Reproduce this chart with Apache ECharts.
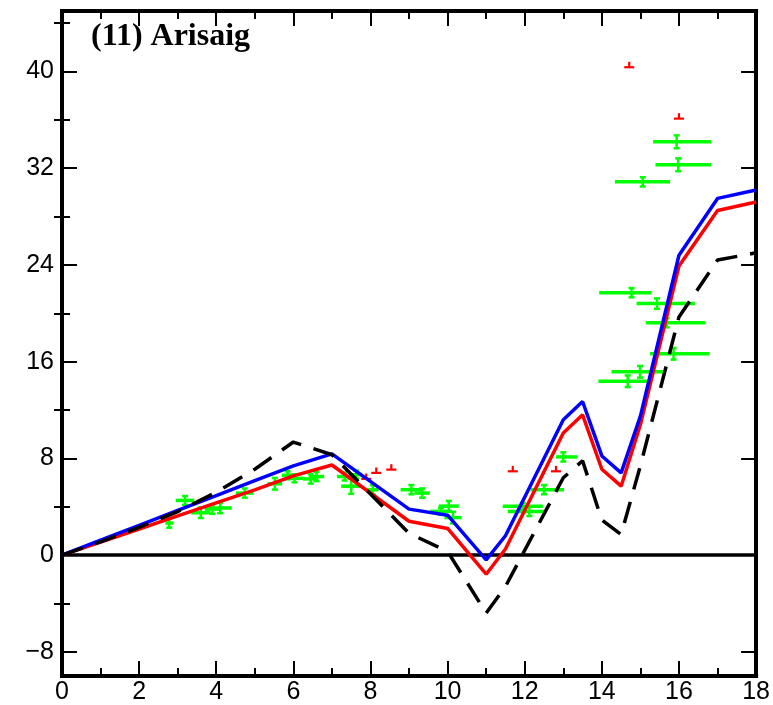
<!DOCTYPE html>
<html>
<head>
<meta charset="utf-8">
<script src="https://cdn.jsdelivr.net/npm/echarts@6/dist/echarts.min.js"></script>
<style>html,body{margin:0;padding:0;background:#fff}#c{width:773px;height:705px}</style>
</head>
<body>
<div id="c"></div>
<script>
// Model curves (x positions of vertices and y values)
const xModel     = [0, 1, 2, 3, 4, 5, 6, 7, 9, 10, 11, 11.5, 13, 13.5, 14, 14.5, 15, 16, 17, 18];
const modelBlue  = [0, 1.23, 2.46, 3.69, 4.92, 6.15, 7.38, 8.37, 3.8, 3.3, -0.4, 1.6, 11.2, 12.7, 8.2, 6.8, 11.5, 24.8, 29.5, 30.2];
const modelRed   = [0, 1.08, 2.16, 3.24, 4.32, 5.4, 6.55, 7.45, 2.8, 2.2, -1.58, 0.5, 10.1, 11.6, 7.1, 5.7, 10.8, 23.9, 28.5, 29.2];
const modelBlack = [0, 1.1, 2.3, 3.6, 5.2, 7.1, 9.35, 8.3, 1.8, 0.3, -4.8, -2.6, 6.4, 7.8, 2.9, 1.7, 7.4, 19.7, 24.4, 25.0];

// Green observations with errors
const greenX      = [2.78, 3.19, 3.6, 3.9, 4.1, 4.74, 5.52, 5.85, 6.03, 6.45, 6.6, 7.33, 7.5, 7.63, 8.06, 9.06, 9.34, 9.83, 10.03, 10.14, 11.95, 12.12, 12.5, 13.0, 14.67, 14.99, 14.77, 15.43, 15.68, 15.86, 15.06, 15.98, 15.94];
const greenY      = [2.65, 4.52, 3.5, 3.8, 3.9, 5.13, 5.9, 6.6, 6.35, 6.3, 6.5, 6.5, 5.7, 6.65, 5.4, 5.41, 5.13, 3.62, 4.05, 3.1, 4.03, 3.61, 5.41, 8.12, 14.38, 15.16, 21.7, 20.8, 19.22, 16.65, 30.87, 32.28, 34.18];
const greenXMinus = [0.1, 0.24, 0.25, 0.2, 0.3, 0.23, 0.19, 0.15, 0.22, 0.2, 0.2, 0.2, 0.26, 0.15, 0.15, 0.28, 0.2, 0.28, 0.26, 0.22, 0.52, 0.56, 0.35, 0.19, 0.76, 0.74, 0.84, 0.53, 0.54, 0.61, 0.72, 0.59, 0.61];
const greenXPlus  = [0.1, 0.24, 0.25, 0.2, 0.3, 0.23, 0.19, 0.15, 0.22, 0.2, 0.2, 0.2, 0.26, 0.15, 0.15, 0.28, 0.2, 0.28, 0.26, 0.22, 0.52, 0.39, 0.52, 0.37, 0.51, 0.65, 0.52, 0.98, 1.0, 0.92, 0.71, 0.85, 0.89];
const greenYErr   = [0.3, 0.28, 0.35, 0.3, 0.35, 0.3, 0.4, 0.25, 0.25, 0.3, 0.3, 0.25, 0.55, 0.25, 0.3, 0.3, 0.3, 0.2, 0.35, 0.4, 0.2, 0.3, 0.3, 0.3, 0.4, 0.4, 0.3, 0.35, 0.3, 0.4, 0.3, 0.45, 0.45];

// Red single-sided markers
const redX = [7.89, 8.15, 8.54, 11.69, 12.81, 14.71, 16.0];
const redY = [6.3, 6.8, 7.07, 6.93, 6.93, 40.35, 36.1];

// Axis ticks
const xMin = 0, xMax = 18, xStep = 2;
const yMin = -10, yMax = 45;
const yMajorTicks = [-8, 0, 8, 16, 24, 32, 40];
const yMinorTicks = [-4, 4, 12, 20, 28, 36, 44];
const titleText = '(11) Arisaig';

const pairs = (xs, ys) => xs.map((x, i) => [x, ys[i]]);
const greenData = greenX.map((x, i) => [x, greenY[i], greenXMinus[i], greenXPlus[i], greenYErr[i]]);
const redData = pairs(redX, redY);

const chart = echarts.init(document.getElementById('c'), null, {renderer: 'canvas'});
const black = '#000';
const mkAxisLine = () => ({show: true, onZero: false, lineStyle: {color: black, width: 4, cap: 'square'}});
const fontFam = '"Liberation Sans", Arial, sans-serif';

const xAxisBase = (pos, showLabel) => ({
  type: 'value', min: xMin, max: xMax, interval: xStep, position: pos,
  axisLine: mkAxisLine(),
  axisTick: {show: true, inside: true, length: 15, lineStyle: {color: black, width: 2}},
  minorTick: {show: true, splitNumber: 2, length: 8, lineStyle: {color: black, width: 2}},
  splitLine: {show: false}, minorSplitLine: {show: false},
  axisLabel: {show: showLabel, color: black, fontSize: 25, fontFamily: fontFam, margin: 4}
});
const yAxisBase = (pos, showLabel) => ({
  type: 'value', min: yMin, max: yMax, position: pos,
  axisLine: mkAxisLine(),
  axisTick: {show: true, inside: true, length: 15, customValues: yMajorTicks, lineStyle: {color: black, width: 2}},
  splitLine: {show: false},
  axisLabel: {show: showLabel, customValues: yMajorTicks, color: black, fontSize: 25, fontFamily: fontFam, margin: 8,
    formatter: v => v < 0 ? '\u2212' + (-v) : String(v)}
});
const yMinorAxis = (pos) => ({
  type: 'value', min: yMin, max: yMax, position: pos,
  axisLine: {show: false},
  axisTick: {show: true, inside: true, length: 8, customValues: yMinorTicks, lineStyle: {color: black, width: 2}},
  splitLine: {show: false},
  axisLabel: {show: false}
});

function renderGreen(params, api) {
  const x = api.value(0), y = api.value(1), xm = api.value(2), xp = api.value(3), ye = api.value(4);
  const l = api.coord([x - xm, y]), r = api.coord([x + xp, y]);
  const t = api.coord([x, y + ye]), b = api.coord([x, y - ye]);
  const st = {stroke: '#00ff00', lineWidth: 3.5};
  const st2 = {stroke: '#00ff00', lineWidth: 2.5};
  return {type: 'group', children: [
    {type: 'line', shape: {x1: l[0], y1: l[1], x2: r[0], y2: r[1]}, style: st},
    {type: 'line', shape: {x1: t[0], y1: t[1] - 1, x2: b[0], y2: b[1] + 1}, style: st2},
    {type: 'line', shape: {x1: t[0] - 3, y1: t[1] - 1, x2: t[0] + 3, y2: t[1] - 1}, style: st2},
    {type: 'line', shape: {x1: b[0] - 3, y1: b[1] + 1, x2: b[0] + 3, y2: b[1] + 1}, style: st2}
  ]};
}
function renderRed(params, api) {
  const x = api.value(0), y = api.value(1);
  const c = api.coord([x, y]);
  const l = api.coord([x - 0.13, y]), r = api.coord([x + 0.13, y]);
  const t = api.coord([x, y + 0.45]);
  const st = {stroke: '#ff0000', lineWidth: 2.2};
  return {type: 'group', children: [
    {type: 'line', shape: {x1: l[0], y1: l[1], x2: r[0], y2: r[1]}, style: st},
    {type: 'line', shape: {x1: c[0], y1: c[1], x2: t[0], y2: t[1]}, style: st}
  ]};
}

const option = {
  animation: false,
  backgroundColor: '#fff',
  grid: {left: 62, right: 16, top: 11, bottom: 29, containLabel: false},
  xAxis: [xAxisBase('bottom', true), xAxisBase('top', false)],
  yAxis: [yAxisBase('left', true), yAxisBase('right', false), yMinorAxis('left'), yMinorAxis('right')],
  graphic: [{
    type: 'text', left: 91, top: 21,
    style: {text: titleText, font: 'bold 32px "Liberation Serif", "Times New Roman", serif', fill: black}
  }],
  series: [
    {type: 'custom', name: 'obs', renderItem: renderGreen, data: greenData, encode: {x: 0, y: 1}, z: 2, clip: false},
    {type: 'custom', name: 'lim', renderItem: renderRed, data: redData, encode: {x: 0, y: 1}, z: 3, clip: false},
    {type: 'line', name: 'zero', data: [], z: 4, symbol: 'none',
      markLine: {silent: true, symbol: 'none', label: {show: false},
        lineStyle: {color: black, width: 3.5, type: 'solid'}, data: [{yAxis: 0}]}},
    {type: 'line', name: 'red', data: pairs(xModel, modelRed), symbol: 'none', z: 5,
      lineStyle: {color: '#ff0000', width: 3.5}},
    {type: 'line', name: 'blue', data: pairs(xModel, modelBlue), symbol: 'none', z: 6,
      lineStyle: {color: '#0000ff', width: 3.5}},
    {type: 'line', name: 'black', data: pairs(xModel, modelBlack), symbol: 'none', z: 7,
      lineStyle: {color: black, width: 3.5, type: [22, 13]}}
  ]
};
chart.setOption(option);
</script>
</body>
</html>
